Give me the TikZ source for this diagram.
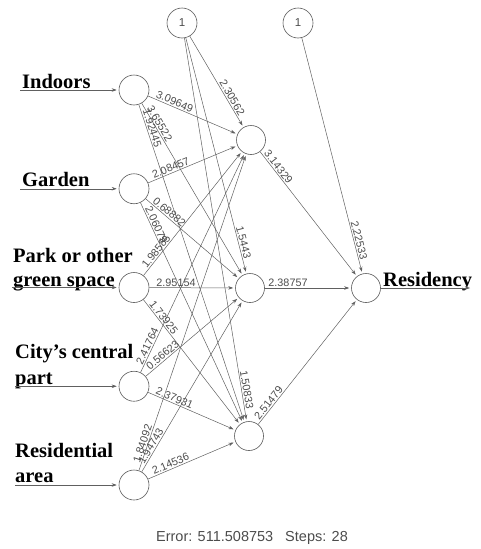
\documentclass[tikz,border=0pt]{standalone}
\usepackage{fontspec}
\setmainfont{Liberation Serif}
\setsansfont{Liberation Sans}
\usetikzlibrary{arrows.meta,calc}
\begin{document}
\begin{tikzpicture}[x=1pt,y=-1pt,
  neuron/.style={circle,draw=gray!70!black,line width=0.6pt,minimum size=30pt,inner sep=0pt,font=\sffamily\fontsize{11.5}{13}\selectfont,text=gray!60!black},
  hid/.style={neuron,minimum size=29pt},
  syn/.style={draw=gray!75!black,line width=0.5pt,-{Stealth[length=5pt,width=3.5pt]},shorten >=2pt},
  wlbl/.style={font=\sffamily\fontsize{10.8}{12}\selectfont,text=gray!60!black,inner sep=1.2pt},
  inlbl/.style={font=\bfseries\fontsize{20.5}{24}\selectfont,inner sep=0pt,anchor=base west},
]
\useasboundingbox (0,0) rectangle (480,549);

% neurons
\node[neuron] (B1) at (182,23) {1};
\node[neuron] (B2) at (298,23) {1};
\node[neuron] (I1) at (134,90) {};
\node[neuron] (I2) at (134,188.75) {};
\node[neuron] (I3) at (134,287.5) {};
\node[neuron] (I4) at (134,386.25) {};
\node[neuron] (I5) at (134,485) {};
\node[hid] (H1) at (251,140) {};
\node[hid] (H2) at (250,288) {};
\node[hid] (H3) at (249,436) {};
\node[hid] (O) at (366,288) {};

% input labels
\node[inlbl] (tIndoors) at (22,88) {Indoors};
\node[inlbl] (tGarden) at (22,186.5) {Garden};
\node[inlbl] (tPark1) at (13,262) {Park or other};
\node[inlbl] (tPark2) at (13,286) {green space};
\node[inlbl] (tCity1) at (15,358) {City’s central};
\node[inlbl] (tCity2) at (15,384.5) {part};
\node[inlbl] (tRes1) at (15,457) {Residential};
\node[inlbl] (tRes2) at (15,482.5) {area};
\node[inlbl] (tOut) at (383,286) {Residency};

% input arrows
\coordinate (s1) at (20,90);
\coordinate (s2) at (20,188.75);
\coordinate (s3) at (12,287.5);
\coordinate (s4) at (15,386.25);
\coordinate (s5) at (15,485);
\coordinate (oe) at (472,288);
\foreach \i in {1,...,5} {\draw[syn] (s\i) -- (I\i);}
\draw[syn] (O) -- (oe);

% weighted synapses
\foreach \s/\d/\w/\r in {
  I1/H1/3.09649/42, I1/H2/3.65522/42, I1/H3/1.92445/42,
  I2/H1/2.08457/42, I2/H2/0.68882/42, I2/H3/2.06079/42,
  I3/H1/1.98585/42, I3/H2/2.95154/42, I3/H3/1.73925/42,
  I4/H1/2.41764/42, I4/H2/0.56623/42, I4/H3/2.37931/42,
  I5/H1/1.84092/42, I5/H2/1.94743/42, I5/H3/2.14536/42,
  H1/O/3.14329/38, H2/O/2.38757/38, H3/O/2.51479/38}
{
  \draw[syn] (\s) -- (\d);
  \path (\s.center) -- ($(\s)!\r pt!(\d)$) node[wlbl,sloped,above,at end] (w-\s-\d) {\w};
}

% bias synapses
\foreach \s/\d/\w/\r in {B1/H1/2.30562/46, B1/H2/1.5443/46, B1/H3/1.50833/46, B2/O/2.22533/48}
{
  \draw[syn] (\s) -- (\d);
  \path (\s.center) -- ($(\d)!\r pt!(\s)$) node[wlbl,sloped,above,at end] (w-\s-\d) {\w};
}

\node[font=\sffamily\fontsize{14.5}{16}\selectfont,text=gray!60!black] (err) at (252,538) {Error: 511.508753\hspace{12pt}Steps: 28};
\end{tikzpicture}
\end{document}
